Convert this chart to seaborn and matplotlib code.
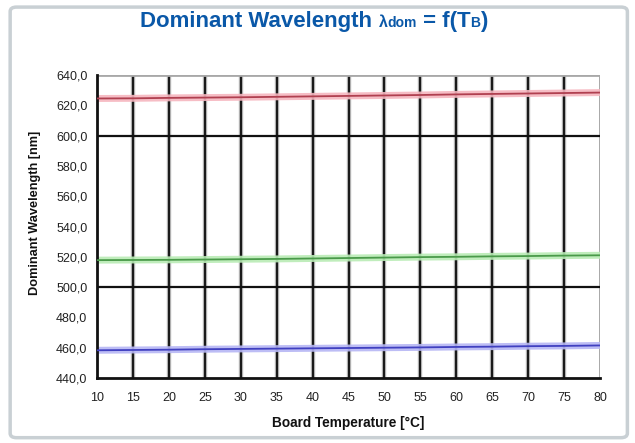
import numpy as np
import pandas as pd
import matplotlib
matplotlib.use("Agg")
import matplotlib.pyplot as plt
import seaborn as sns
from matplotlib.patches import FancyBboxPatch
from matplotlib.ticker import MultipleLocator, FuncFormatter

temperature = [10, 15, 20, 25, 30, 35, 40, 45, 50, 55, 60, 65, 70, 75, 80]
red_nm = [624.5, 624.6, 624.9, 625.1, 625.3, 625.6, 625.9, 626.2, 626.5, 626.8, 627.2, 627.5, 627.8, 628.1, 628.4]
green_nm = [517.8, 517.9, 518.0, 518.2, 518.4, 518.6, 518.9, 519.2, 519.5, 519.8, 520.0, 520.3, 520.5, 520.8, 521.0]
blue_nm = [458.3, 458.5, 458.7, 459.0, 459.2, 459.4, 459.6, 459.8, 460.0, 460.2, 460.5, 460.7, 461.0, 461.2, 461.5]
series_names = ["red", "green", "blue"]
y_ticks = [440, 460, 480, 500, 520, 540, 560, 580, 600, 620, 640]

df = pd.DataFrame({
    "T": temperature * 3,
    "wl": red_nm + green_nm + blue_nm,
    "color": sum([[n] * len(temperature) for n in series_names], []),
})

sns.set_theme(style="white")
plt.rcParams["font.family"] = ["Liberation Sans", "DejaVu Sans"]

fig = plt.figure(figsize=(6.35, 4.43), dpi=100)
fig.patch.set_facecolor("white")
# outer frame
fig.patches.append(FancyBboxPatch((0.016, 0.012), 0.972, 0.972, boxstyle="round,pad=0,rounding_size=0.01",
                                  transform=fig.transFigure, fill=False, edgecolor="#c9d0d4", linewidth=2.5))

ax = fig.add_axes([0.1528, 0.1467, 0.7921, 0.684])
ax.set_facecolor("white")

# grid
for t in temperature[1:-1]:
    ax.axvline(t, color="#9a9a9a", lw=3.2, zorder=1, alpha=0.6)
    ax.axvline(t, color="#1a1a1a", lw=1.6, zorder=1.1)
ax.axvline(80, color="#9a9a9a", lw=1.2, zorder=1)
for yv in [500, 600]:
    ax.axhline(yv, color="#111111", lw=1.6, zorder=1.2)
ax.axhline(640, color="#a8a8a8", lw=2.0, zorder=1.2)

halo = {"red": "#f6b6bf", "green": "#b9ecb5", "blue": "#b6b6f4"}
core = {"red": "#b04050", "green": "#4a9a4a", "blue": "#4040c0"}
sns.lineplot(data=df, x="T", y="wl", hue="color", palette=halo, lw=5, ax=ax, legend=False, zorder=2, alpha=0.9)
sns.lineplot(data=df, x="T", y="wl", hue="color", palette=core, lw=1.3, ax=ax, legend=False, zorder=3)

ax.set_xlim(10, 80)
ax.set_ylim(440, 640)
ax.set_xticks(temperature)
ax.set_yticks(y_ticks)
ax.yaxis.set_major_formatter(FuncFormatter(lambda v, p: f"{v:.1f}".replace(".", ",")))
ax.tick_params(axis="both", labelsize=9, colors="#222222", length=3, width=1.2, direction="out", pad=4)
ax.tick_params(axis="x", pad=7)

for s in ["top", "right"]:
    ax.spines[s].set_visible(False)
ax.spines["left"].set_color("#111111")
ax.spines["left"].set_linewidth(2.0)
ax.spines["bottom"].set_color("#111111")
ax.spines["bottom"].set_linewidth(2.0)

ax.set_xlabel("Board Temperature [°C]", fontsize=9.8, fontweight="bold", color="#111111")
ax.set_ylabel("Dominant Wavelength [nm]", fontsize=9.2, fontweight="bold", color="#111111")
ax.xaxis.set_label_coords(0.5, -0.125)
ax.yaxis.set_label_coords(-0.112, 0.545)

# title in pieces
title_color = "#0a58a8"
pieces = [("Dominant Wavelength ", 16), ("λ", 11.5), ("dom", 10), (" = f(T", 16), ("B", 10), (")", 16)]
fig.canvas.draw()
renderer = fig.canvas.get_renderer()
texts = []
for s, fs in pieces:
    t = fig.text(0, 0, s, fontsize=fs, fontweight="bold", color=title_color, ha="left", va="baseline")
    texts.append(t)
widths = [t.get_window_extent(renderer).width for t in texts]
total = sum(widths)
x0 = 314 - total / 2
base_y = 443 - 27
for t, w in zip(texts, widths):
    t.set_position((x0 / 635, base_y / 443))
    x0 += w

fig.savefig("out.png", dpi=100, facecolor="white")
